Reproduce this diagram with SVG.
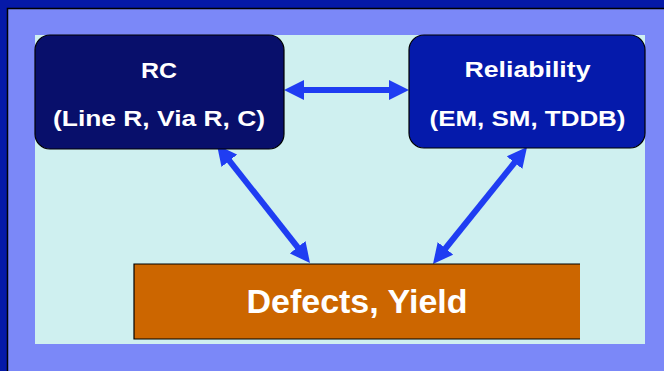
<svg xmlns="http://www.w3.org/2000/svg" width="664" height="371" viewBox="0 0 664 371">
  <defs>
    <style>
      .label { font-family: "Liberation Sans", Arial, sans-serif; font-weight: bold; fill: #ffffff; text-anchor: middle; }
      .small { font-size: 22px; }
      .big { font-size: 34px; }
      .box-edge { stroke: #000000; stroke-width: 1.2; }
      .link { stroke: #1f3df2; stroke-width: 6; fill: none; marker-start: url(#head); marker-end: url(#head); }
    </style>
    <marker id="head" viewBox="0 0 20 20" refX="4" refY="10" markerWidth="20" markerHeight="20" markerUnits="userSpaceOnUse" orient="auto-start-reverse">
      <path d="M0,0 L20,10 L0,20 z" fill="#1f3df2"/>
    </marker>
  </defs>

  <!-- slide frame -->
  <rect x="0" y="0" width="664" height="371" fill="#0519a8"/>
  <rect x="7.5" y="8.5" width="660" height="370" fill="#7b88f8"/>
  <path d="M7.5,371 V8.5 H664" fill="none" stroke="#000000" stroke-width="1.5"/>
  <rect x="35" y="35" width="610" height="309" fill="#cff0f0"/>

  <!-- connectors -->
  <g id="connectors">
    <line class="link" x1="300" y1="90" x2="393" y2="90"/>
    <line class="link" x1="226.9" y1="157.6" x2="300.1" y2="250.4"/>
    <line class="link" x1="517" y1="159.5" x2="443" y2="251.5"/>
  </g>

  <g id="rc">
    <rect class="box-edge" x="35" y="35" width="249" height="114" rx="15" fill="#080f6b"/>
    <text class="label small" x="159" y="78" textLength="36" lengthAdjust="spacingAndGlyphs">RC</text>
    <text class="label small" x="159" y="126" textLength="212" lengthAdjust="spacingAndGlyphs">(Line R, Via R, C)</text>
  </g>

  <g id="reliability">
    <rect class="box-edge" x="409" y="35" width="236" height="113" rx="15" fill="#051aab"/>
    <text class="label small" x="527.5" y="77" textLength="126" lengthAdjust="spacingAndGlyphs">Reliability</text>
    <text class="label small" x="527.5" y="126" textLength="196" lengthAdjust="spacingAndGlyphs">(EM, SM, TDDB)</text>
  </g>

  <g id="defects">
    <rect x="134" y="264" width="446" height="75" fill="#cc6600"/>
    <path class="box-edge" d="M580,264 H134 V339 H580" fill="none"/>
    <text class="label big" x="357" y="313">Defects, Yield</text>
  </g>
</svg>
